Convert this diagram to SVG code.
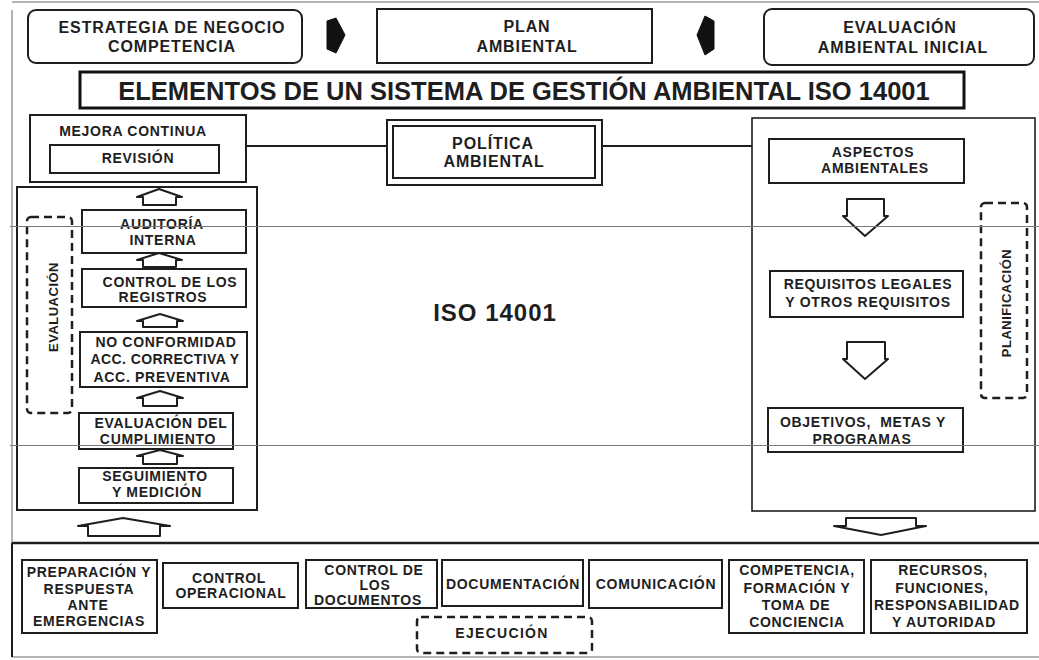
<svg xmlns="http://www.w3.org/2000/svg" width="1039" height="660" viewBox="0 0 1039 660">
  <style>
    .bx{fill:#fff;stroke:#1e1e1e;stroke-width:2}
    .thin{fill:#fff;stroke:#1e1e1e;stroke-width:1.6}
    .dash{fill:none;stroke:#1e1e1e;stroke-width:2.5;stroke-dasharray:8 5}
    .arr{fill:#fff;stroke:#1e1e1e;stroke-width:2;stroke-linejoin:round}
    .solid{fill:#111;stroke:#111;stroke-width:1}
    .frame{fill:none;stroke:#9a9a9a;stroke-width:1.5}
    .scan{stroke:#7a7a7a;stroke-width:1.2}
    .ln{stroke:#1e1e1e;stroke-width:2;fill:none}
    text{font-family:"Liberation Sans",Arial,sans-serif;font-weight:bold;fill:#1e1e1e;text-anchor:middle}
    .t{font-size:14px;letter-spacing:0.7px}
    .tl{font-size:16px;letter-spacing:0.9px}
    .tv{font-size:13px;letter-spacing:0.5px}
  </style>

  <rect x="0" y="0" width="1039" height="660" fill="#fff"/>

  <!-- page frame -->
  <g id="frame">
    <line class="frame" x1="12" y1="10" x2="12" y2="657"/>
    <line class="frame" x1="12" y1="2" x2="1039" y2="2"/>
    <line class="frame" x1="12" y1="657" x2="1039" y2="657"/>
  </g>

  <!-- top row -->
  <g id="estrategia">
    <rect class="bx" x="28" y="10" width="274" height="53" rx="8"/>
    <text class="tl" x="172" y="33">ESTRATEGIA DE NEGOCIO</text>
    <text class="tl" x="172" y="52">COMPETENCIA</text>
  </g>
  <g id="plan">
    <rect class="bx" x="377" y="9" width="275" height="54"/>
    <text class="tl" x="527" y="32">PLAN</text>
    <text class="tl" x="527" y="52">AMBIENTAL</text>
  </g>
  <g id="evaluacion-inicial">
    <rect class="bx" x="764" y="9" width="270" height="56" rx="8"/>
    <text class="tl" x="900" y="33">EVALUACIÓN</text>
    <text class="tl" x="903" y="53">AMBIENTAL INICIAL</text>
  </g>

  <!-- title -->
  <g id="titulo">
    <rect x="80" y="72" width="884" height="36" fill="#fff" stroke="#111" stroke-width="3"/>
    <text x="524" y="100" style="font-size:25.5px">ELEMENTOS DE UN SISTEMA DE GESTIÓN AMBIENTAL ISO 14001</text>
  </g>

  <!-- left column: mejora continua -->
  <g id="mejora">
    <rect class="bx" x="30" y="115" width="216" height="67"/>
    <text class="t" x="133" y="136">MEJORA CONTINUA</text>
    <rect class="bx" x="50" y="145" width="169" height="28"/>
    <text class="t" x="138" y="163">REVISIÓN</text>
  </g>

  <!-- centre: política -->
  <g id="politica">
    <rect class="bx" x="387" y="120" width="215" height="65"/>
    <rect class="bx" x="393" y="126" width="202" height="52"/>
    <text class="tl" x="493" y="149">POLÍTICA</text>
    <text class="tl" x="494" y="167">AMBIENTAL</text>
  </g>

  <g id="iso">
    <text x="495" y="321" style="font-size:24px;letter-spacing:1px">ISO 14001</text>
  </g>

  <!-- left column: evaluación -->
  <g id="evaluacion">
    <rect class="bx" x="17" y="187" width="240" height="323"/>
    <rect class="dash" x="27" y="217" width="45" height="196" rx="4"/>
    <text class="tv" transform="translate(57.5 307) rotate(-90)">EVALUACIÓN</text>
  </g>
  <g id="auditoria">
    <rect class="bx" x="82" y="210" width="164" height="43"/>
    <text class="t" x="162" y="229">AUDITORÍA</text>
    <text class="t" x="163" y="245">INTERNA</text>
  </g>
  <g id="registros">
    <rect class="bx" x="82" y="269" width="164" height="38"/>
    <text class="t" x="170" y="287">CONTROL DE LOS</text>
    <text class="t" x="163" y="302">REGISTROS</text>
  </g>
  <g id="no-conformidad">
    <rect class="bx" x="80" y="332" width="167" height="55"/>
    <text class="t" x="166" y="347">NO CONFORMIDAD</text>
    <text class="t" x="165" y="364" style="letter-spacing:0.4px">ACC. CORRECTIVA Y</text>
    <text class="t" x="162" y="382">ACC. PREVENTIVA</text>
  </g>
  <g id="cumplimiento">
    <rect class="bx" x="79" y="413" width="154" height="36"/>
    <text class="t" x="161" y="428">EVALUACIÓN DEL</text>
    <text class="t" x="158" y="444">CUMPLIMIENTO</text>
  </g>
  <g id="seguimiento">
    <rect class="bx" x="79" y="468" width="154" height="35"/>
    <text class="t" x="155" y="481">SEGUIMIENTO</text>
    <text class="t" x="157" y="497">Y MEDICIÓN</text>
  </g>

  <!-- right column: planificación -->
  <g id="planificacion">
    <rect class="thin" x="752" y="118" width="283" height="393"/>
    <rect class="dash" x="981" y="203" width="46" height="195" rx="4"/>
    <text class="tv" transform="translate(1010.5 303) rotate(-90)">PLANIFICACIÓN</text>
  </g>
  <g id="aspectos">
    <rect class="bx" x="769" y="139" width="195" height="44"/>
    <text class="t" x="873" y="157">ASPECTOS</text>
    <text class="t" x="875" y="173">AMBIENTALES</text>
  </g>
  <g id="requisitos">
    <rect class="bx" x="770" y="271" width="193" height="46"/>
    <text class="t" x="868" y="289">REQUISITOS LEGALES</text>
    <text class="t" x="868" y="307">Y OTROS REQUISITOS</text>
  </g>
  <g id="objetivos">
    <rect class="bx" x="768" y="408" width="195" height="44"/>
    <text class="t" x="863" y="427" xml:space="preserve">OBJETIVOS,  METAS Y</text>
    <text class="t" x="862" y="444">PROGRAMAS</text>
  </g>

  <!-- bottom: ejecución -->
  <g id="ejecucion">
    <path d="M12,543 V657" class="ln"/>
    <line x1="12" y1="543" x2="1039" y2="543" stroke="#1e1e1e" stroke-width="2.5"/>
    <rect class="dash" x="417" y="617" width="175" height="36" rx="4"/>
    <text class="t" x="502" y="638" style="letter-spacing:1.3px">EJECUCIÓN</text>
  </g>
  <g id="emergencias">
    <rect class="bx" x="22" y="560" width="135" height="73"/>
    <text class="t" x="89" y="577">PREPARACIÓN Y</text>
    <text class="t" x="89" y="594">RESPUESTA</text>
    <text class="t" x="88" y="610">ANTE</text>
    <text class="t" x="89" y="626">EMERGENCIAS</text>
  </g>
  <g id="control-operacional">
    <rect class="bx" x="163" y="563" width="135" height="45"/>
    <text class="t" x="229" y="583">CONTROL</text>
    <text class="t" x="231" y="598">OPERACIONAL</text>
  </g>
  <g id="control-documentos">
    <rect class="bx" x="306" y="560" width="131" height="48"/>
    <text class="t" x="374" y="575">CONTROL DE</text>
    <text class="t" x="375" y="590">LOS</text>
    <text class="t" x="368" y="605">DOCUMENTOS</text>
  </g>
  <g id="documentacion">
    <rect class="bx" x="442" y="560" width="141" height="46"/>
    <text class="t" x="513" y="589">DOCUMENTACIÓN</text>
  </g>
  <g id="comunicacion">
    <rect class="bx" x="589" y="560" width="133" height="48"/>
    <text class="t" x="656" y="589">COMUNICACIÓN</text>
  </g>
  <g id="competencia">
    <rect class="bx" x="729" y="560" width="135" height="73"/>
    <text class="t" x="797" y="575">COMPETENCIA,</text>
    <text class="t" x="797" y="593">FORMACIÓN Y</text>
    <text class="t" x="796" y="610">TOMA DE</text>
    <text class="t" x="797" y="627">CONCIENCIA</text>
  </g>
  <g id="recursos">
    <rect class="bx" x="871" y="560" width="156" height="73"/>
    <text class="t" x="943" y="575">RECURSOS,</text>
    <text class="t" x="942" y="593">FUNCIONES,</text>
    <text class="t" x="947" y="610">RESPONSABILIDAD</text>
    <text class="t" x="944" y="627">Y AUTORIDAD</text>
  </g>

  <!-- connectors -->
  <g id="connectors">
    <line class="ln" x1="246" y1="146" x2="387" y2="146"/>
    <line class="ln" x1="602" y1="146" x2="752" y2="146"/>
    <!-- solid arrows between the top boxes -->
    <polygon class="solid" points="327,21 336,18 345,35 336,53 327,49"/>
    <polygon class="solid" points="714,21 705,16 697,35 705,55 714,49"/>
    <!-- upward arrows inside evaluación -->
    <polygon class="arr" points="159,189 182,197 176,197 176,205 143,205 143,197 137,197"/>
    <polygon class="arr" points="159,253 182,260 176,260 176,267 143,267 143,260 137,260"/>
    <polygon class="arr" points="160,314 183,321 177,321 177,327 143,327 143,321 137,321"/>
    <polygon class="arr" points="160,391 183,398 177,398 177,406 143,406 143,398 137,398"/>
    <polygon class="arr" points="160,450 183,456 177,456 177,464 143,464 143,456 137,456"/>
    <!-- downward arrows inside planificación -->
    <polygon class="arr" points="847,199 884,199 884,216 888,216 865,236 843,216 847,216"/>
    <polygon class="arr" points="847,342 885,342 885,359 888,359 865,379 843,359 847,359"/>
    <!-- between columns and ejecución -->
    <polygon class="arr" points="123,518 170,526 160,526 160,536 88,536 88,526 78,526"/>
    <polygon class="arr" points="846,518 916,518 916,526 926,526 881,535 834,526 846,526"/>
  </g>

  <!-- faint horizontal scan lines across the sheet -->
  <g id="scan-lines">
    <line class="scan" x1="10" y1="226.5" x2="1039" y2="226.5"/>
    <line class="scan" x1="10" y1="445.5" x2="1039" y2="445.5"/>
  </g>
</svg>
